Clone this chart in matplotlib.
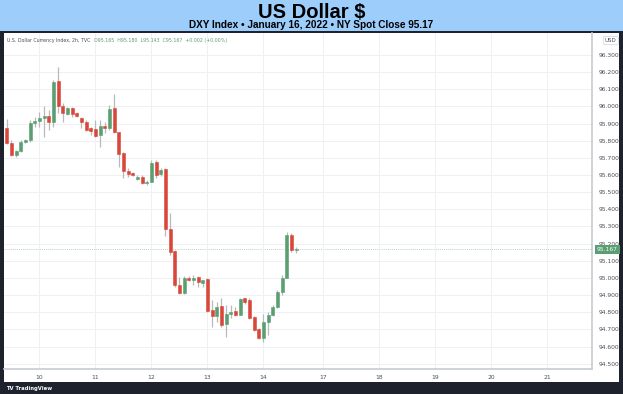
import numpy as np
import matplotlib.pyplot as plt
from matplotlib.patches import Rectangle
from matplotlib.transforms import blended_transform_factory

# 2h candles, DXY, Jan 10-14 2022
opens = [95.876, 95.785, 95.717, 95.740, 95.791, 95.804, 95.902, 95.915, 95.931, 95.944,
         95.911, 96.148, 96.004, 95.954, 95.993, 95.960, 95.931, 95.911, 95.873, 95.867,
         95.834, 95.888, 95.873, 95.989, 95.849, 95.727, 95.625, 95.610, 95.577, 95.590,
         95.552, 95.561, 95.674, 95.604, 95.634, 95.284, 95.157, 94.959, 94.914, 95.001,
         94.988, 95.004, 94.973, 94.994, 94.813, 94.780, 94.838, 94.730, 94.788, 94.807,
         94.786, 94.881, 94.871, 94.771, 94.702, 94.648, 94.741, 94.784, 94.832, 94.920,
         95.001, 95.250, 95.165]
highs = [95.925, 95.804, 95.746, 95.804, 95.810, 95.921, 95.940, 95.969, 96.000, 95.979,
         96.154, 96.232, 96.018, 95.999, 95.999, 95.970, 95.940, 95.920, 95.882, 95.921,
         95.921, 95.911, 96.008, 96.071, 95.853, 95.736, 95.639, 95.615, 95.600, 95.600,
         95.571, 95.688, 95.688, 95.639, 95.639, 95.377, 95.163, 95.007, 95.010, 95.010,
         95.017, 95.010, 94.990, 95.000, 94.871, 94.861, 94.885, 94.842, 94.842, 94.830,
         94.885, 94.885, 94.881, 94.777, 94.710, 94.790, 94.800, 94.842, 94.930, 95.017,
         95.266, 95.260, 95.180]
lows = [95.780, 95.711, 95.707, 95.736, 95.786, 95.795, 95.882, 95.880, 95.820, 95.863,
        95.882, 95.964, 95.911, 95.950, 95.937, 95.940, 95.873, 95.859, 95.834, 95.824,
        95.765, 95.843, 95.863, 95.843, 95.649, 95.585, 95.590, 95.595, 95.571, 95.546,
        95.542, 95.557, 95.585, 95.594, 95.245, 95.134, 94.949, 94.906, 94.906, 94.980,
        94.959, 94.949, 94.950, 94.803, 94.716, 94.745, 94.716, 94.657, 94.765, 94.780,
        94.784, 94.850, 94.761, 94.691, 94.644, 94.625, 94.667, 94.780, 94.827, 94.901,
        94.998, 95.153, 95.143]
closes = [95.785, 95.717, 95.740, 95.791, 95.804, 95.902, 95.915, 95.931, 95.944, 95.911,
          96.144, 96.004, 95.960, 95.989, 95.954, 95.944, 95.908, 95.863, 95.859, 95.830,
          95.886, 95.873, 95.985, 95.849, 95.721, 95.624, 95.604, 95.600, 95.590, 95.552,
          95.561, 95.672, 95.600, 95.630, 95.284, 95.153, 94.959, 94.914, 95.001, 94.988,
          95.001, 94.978, 94.988, 94.809, 94.780, 94.832, 94.726, 94.788, 94.803, 94.786,
          94.877, 94.858, 94.768, 94.697, 94.648, 94.741, 94.784, 94.832, 94.920, 95.001,
          95.250, 95.163, 95.167]

day_labels = ["10", "11", "12", "13", "14", "17", "18", "19", "20", "21"]
day_pos = [7, 19, 31, 43, 55, 67.8, 79.8, 91.8, 103.8, 115.8]
price_ticks = np.round(np.arange(94.5, 96.31, 0.1), 1)

UP = "#5a9e72"
DOWN = "#d9473a"
WICK = "#b9b9b9"
DARK = "#1e222d"
TXT = "#4a4e59"

W, H = 623, 394
fig = plt.figure(figsize=(W / 100, H / 100), dpi=100, facecolor=DARK)

# title band
fig.patches.append(Rectangle((0, 1 - 31 / H), 1, 31 / H, transform=fig.transFigure,
                             facecolor="#9ccdfb", edgecolor="none", zorder=0))
fig.text(0.5, 1 - 12 / H, "US Dollar $", ha="center", va="center",
         fontsize=14.5, fontweight="bold", family="Liberation Sans", color="black")
fig.text(0.5, 1 - 25.5 / H, "DXY Index \u2022 January 16, 2022 \u2022 NY Spot Close 95.17",
         ha="center", va="center", fontsize=7.2, fontweight="bold",
         family="Liberation Sans", color="black")

# white chart panel (plot + price scale + time scale)
panel = fig.add_axes([4 / W, 12 / H, 615 / W, 349 / H], zorder=0)
panel.set_facecolor("white")
panel.set_xticks([])
panel.set_yticks([])
for s in panel.spines.values():
    s.set_visible(False)

ax = fig.add_axes([4 / W, 25 / H, 588 / W, 336 / H], zorder=2)
ax.set_facecolor("white")

x = np.arange(len(opens))
o = np.array(opens)
c = np.array(closes)
up = c >= o
colors = np.where(up, UP, DOWN)
ax.vlines(x, lows, highs, color=WICK, lw=0.9, zorder=2)
body_lo = np.minimum(o, c)
body_h = np.maximum(np.abs(c - o), 0.004)
ax.bar(x, body_h, bottom=body_lo, width=0.66, color=colors, edgecolor=colors,
       linewidth=0.4, zorder=3)

# last price line
ax.axhline(closes[-1], color=UP, lw=0.6, ls=(0, (1, 1.5)), alpha=0.6, zorder=1)

ax.set_xlim(-0.6, 125.4)
ax.set_ylim(94.469, 96.428)
ax.set_xticks(day_pos)
ax.set_xticklabels(day_labels)
ax.set_yticks(price_ticks)
ax.set_yticklabels([f"{p:.3f}" for p in price_ticks])
ax.yaxis.tick_right()
ax.tick_params(axis="both", length=0, labelsize=4.3, colors=TXT)
ax.tick_params(axis="y", pad=5)
ax.tick_params(axis="x", pad=4)
ax.grid(True, color="#eef0f4", lw=0.7, zorder=0)
for side in ["top", "left"]:
    ax.spines[side].set_visible(False)
for side in ["right", "bottom"]:
    ax.spines[side].set_color("#c9cbd1")
    ax.spines[side].set_linewidth(1.2)

# last price tag on the scale
tr = blended_transform_factory(ax.transAxes, ax.transData)
ax.text(1.008, closes[-1], f"{closes[-1]:.3f}", transform=tr, ha="left", va="center",
        fontsize=4.3, color="white",
        bbox=dict(boxstyle="square,pad=0.35", facecolor=UP, edgecolor="none"),
        clip_on=False, zorder=5)

# currency tag
ax.text(1.022, 0.985, "USD", transform=ax.transAxes, ha="left", va="top",
        fontsize=4, color=TXT,
        bbox=dict(boxstyle="round,pad=0.3", facecolor="white", edgecolor="#d0d3da", lw=0.5),
        clip_on=False)

# legend line
t1 = ax.text(0.005, 0.985, "U.S. Dollar Currency Index, 2h, TVC", transform=ax.transAxes,
             ha="left", va="top", fontsize=3.4, color=TXT)
ax.annotate("O95.165  H95.180  L95.143  C95.167  +0.002 (+0.00%)", xy=(1, 0),
            xycoords=t1, xytext=(3, 0), textcoords="offset points",
            ha="left", va="bottom", fontsize=3.4, color=UP)

# footer
fig.text(6 / W, 5.5 / H, "TV TradingView", ha="left", va="center", fontsize=3.8,
         color="white", fontweight="bold")

fig.savefig("out.png", dpi=100, facecolor=DARK)
